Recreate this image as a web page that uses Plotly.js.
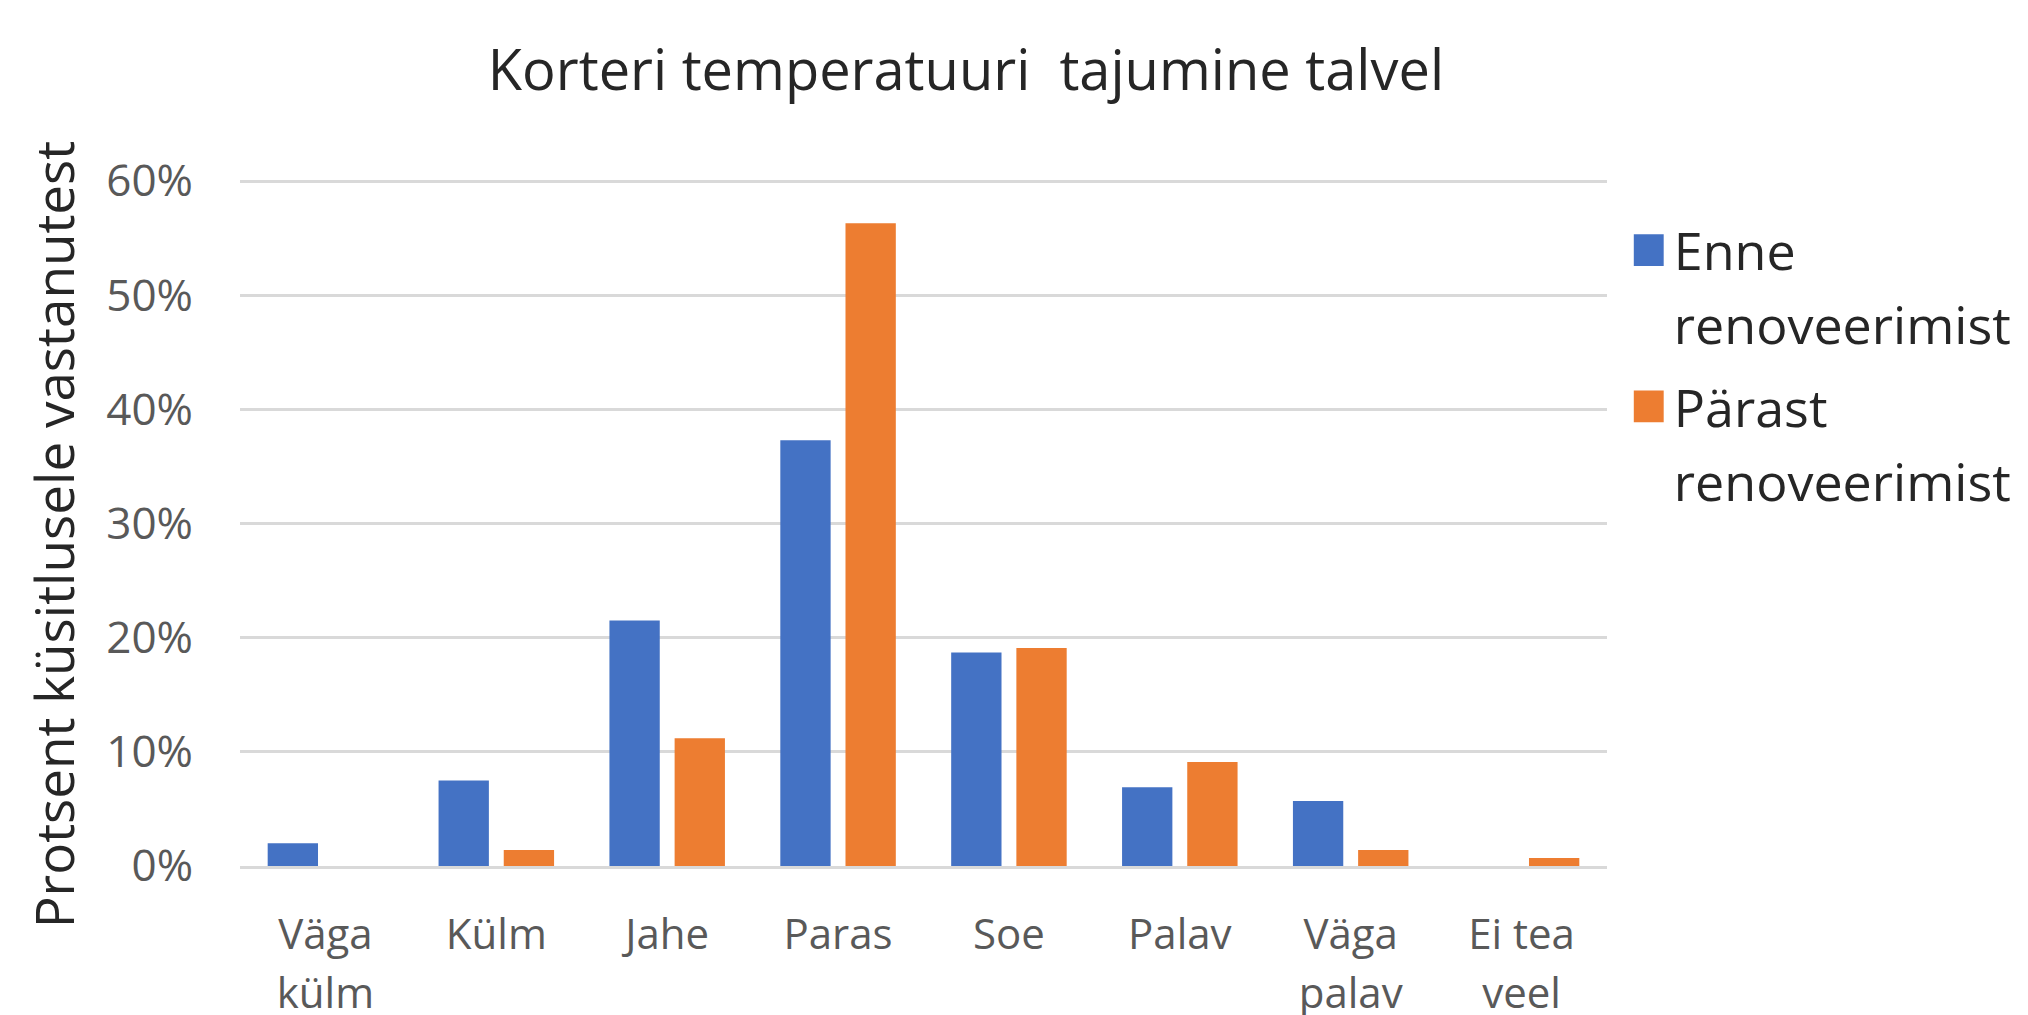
<!DOCTYPE html>
<html>
<head>
<meta charset="utf-8">
<script src="https://cdn.plot.ly/plotly-3.0.1.min.js"></script>
<style>
html, body { margin: 0; padding: 0; background: #ffffff; }
#chart { width: 2028px; height: 1015px; }
</style>
</head>
<body>
<div id="chart"></div>
<script>
const categories = ["Väga<br>külm", "Külm", "Jahe", "Paras", "Soe", "Palav", "Väga<br>palav", "Ei tea<br>veel"];
const enneValues = [2.0, 7.5, 21.5, 37.3, 18.7, 6.9, 5.7, 0];
const parastValues = [0, 1.4, 11.2, 56.3, 19.1, 9.1, 1.4, 0.7];
const seriesNames = ["Enne<br>renoveerimist", "Pärast<br>renoveerimist"];
const yTickValues = [0, 10, 20, 30, 40, 50, 60];
const yTickLabels = ["0%", "10%", "20%", "30%", "40%", "50%", "60%"];
const chartTitle = "Korteri temperatuuri\u00a0 tajumine talvel";
const yAxisTitle = "Protsent küsitlusele vastanutest";

const data = [
  { type: "bar", name: seriesNames[0], x: categories, y: enneValues, legendgroup: "enne",
    marker: { color: "#4472C4" }, hoverinfo: "skip" },
  { type: "bar", name: seriesNames[1], x: categories, y: parastValues, legendgroup: "parast",
    marker: { color: "#ED7D31" }, hoverinfo: "skip" }
];

const layout = {
  width: 2028, height: 1015,
  margin: { l: 240, r: 410, t: 179, b: 149, pad: 0 },
  paper_bgcolor: "#ffffff", plot_bgcolor: "#ffffff",
  font: { family: '"Open Sans", sans-serif', color: "#595959" },
  title: { text: chartTitle, font: { size: 56, color: "#262626" },
    x: 0.4763, xanchor: "center", xref: "container",
    y: 0.931, yref: "container", yanchor: "middle" },
  barmode: "group", bargap: 0.237, bargroupgap: 0.228,
  showlegend: true,
  xaxis: { type: "category", tickfont: { size: 42, color: "#595959" },
    showgrid: false, showline: true, linecolor: "#d9d9d9", linewidth: 3,
    ticks: "", ticklabelstandoff: 30, zeroline: false, fixedrange: true },
  yaxis: { range: [0, 60.18], tickmode: "array", tickvals: yTickValues, ticktext: yTickLabels,
    tickfont: { size: 44, color: "#595959" }, gridcolor: "#d9d9d9", gridwidth: 3,
    zeroline: false, showline: false, ticks: "", ticklabelstandoff: 46,
    title: { text: yAxisTitle, font: { size: 53, color: "#262626" }, standoff: 14 },
    automargin: false, fixedrange: true },
  legend: { x: 1.0196, xanchor: "left", y: 0.955, yanchor: "top",
    font: { size: 52, color: "#262626" }, valign: "top", traceorder: "grouped", tracegroupgap: 18,
    bgcolor: "rgba(0,0,0,0)", borderwidth: 0 }
};

Plotly.newPlot("chart", data, layout, { staticPlot: true, displayModeBar: false }).then(function (gd) {
  gd.querySelectorAll(".legend .legendpoints path").forEach(function (p) {
    const t = p.getAttribute("transform") || "";
    p.setAttribute("transform", t + " translate(-6,0) scale(2.65)");
  });
  gd.querySelectorAll(".legend text.legendtext tspan.line").forEach(function (s) {
    const dy = s.getAttribute("dy");
    if (dy && parseFloat(dy) > 0) s.setAttribute("dy", "1.42em");
  });
  gd.querySelectorAll(".xtick text tspan.line").forEach(function (s) {
    const dy = s.getAttribute("dy");
    if (dy && parseFloat(dy) > 0) s.setAttribute("dy", "1.4em");
  });
  const yt = gd.querySelector(".g-ytitle text");
  if (yt) {
    const t = yt.getAttribute("transform") || "";
    yt.setAttribute("transform", "translate(0,12) " + t);
  }
});
</script>
</body>
</html>
